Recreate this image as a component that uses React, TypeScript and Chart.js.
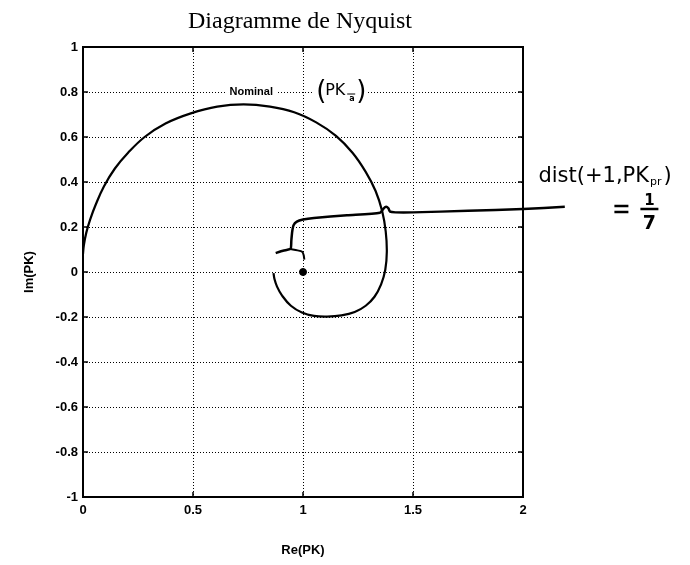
import React, { useEffect, useRef } from "react";
import { Chart, registerables } from "chart.js";

Chart.register(...registerables);

// Axis ticks
const X_TICKS = [0, 0.5, 1, 1.5, 2];
const X_TICK_LABELS = ["0", "0.5", "1", "1.5", "2"];
const Y_TICKS = [-1, -0.8, -0.6, -0.4, -0.2, 0, 0.2, 0.4, 0.6, 0.8, 1];
const Y_TICK_LABELS = ["-1", "-0.8", "-0.6", "-0.4", "-0.2", "0", "0.2", "0.4", "0.6", "0.8", "1"];

// Nominal open loop PK(jw)
const nominalRe = [0.000, 0.004, 0.015, 0.032, 0.058, 0.095, 0.145, 0.205, 0.280, 0.375, 0.490, 0.610, 0.730, 0.850, 0.960, 1.060, 1.150, 1.225, 1.285, 1.330, 1.360, 1.376, 1.381, 1.374, 1.355, 1.325, 1.285, 1.235, 1.175, 1.110, 1.050, 0.995, 0.945, 0.905, 0.882, 0.870, 0.866];
const nominalIm = [0.080, 0.120, 0.175, 0.232, 0.300, 0.380, 0.460, 0.530, 0.600, 0.660, 0.705, 0.735, 0.745, 0.735, 0.710, 0.665, 0.605, 0.530, 0.445, 0.360, 0.270, 0.180, 0.090, 0.010, -0.055, -0.110, -0.150, -0.178, -0.193, -0.198, -0.195, -0.180, -0.150, -0.105, -0.065, -0.030, -0.005];

// Hand-drawn distance marker from +1 to the loop
const distRe = [2.190, 2.000, 1.750, 1.500, 1.420, 1.396, 1.388, 1.378, 1.366, 1.350, 1.200, 1.050, 1.000, 0.972, 0.957, 0.951, 0.947, 0.944, 0.925, 0.900, 0.876];
const distIm = [0.290, 0.280, 0.272, 0.265, 0.265, 0.268, 0.283, 0.290, 0.282, 0.263, 0.252, 0.240, 0.233, 0.224, 0.208, 0.180, 0.140, 0.104, 0.098, 0.092, 0.084];
const distBranchRe = [0.944, 0.975, 0.996, 1.003, 1.006];
const distBranchIm = [0.102, 0.096, 0.090, 0.075, 0.055];

// Critical point +1
const criticalRe = [1];
const criticalIm = [0];

const toPoints = (xs: number[], ys: number[]) => xs.map((x, i) => ({ x, y: ys[i] }));

const HAND = "'DejaVu Sans', sans-serif";
const LABEL_FAMILY = "'Liberation Sans', sans-serif";

const framePlugin = {
  id: "frame",
  afterDraw(chart: any) {
    const { ctx, chartArea: a, scales } = chart;
    const xs = scales.x;
    const ys = scales.y;
    ctx.save();
    ctx.strokeStyle = "#000";
    ctx.lineWidth = 2;
    ctx.strokeRect(a.left, a.top, a.right - a.left, a.bottom - a.top);
    ctx.lineWidth = 1.5;
    const L = 5;
    ctx.beginPath();
    X_TICKS.forEach((v) => {
      const p = xs.getPixelForValue(v);
      ctx.moveTo(p, a.bottom);
      ctx.lineTo(p, a.bottom - L);
      ctx.moveTo(p, a.top);
      ctx.lineTo(p, a.top + L);
    });
    Y_TICKS.forEach((v) => {
      const p = ys.getPixelForValue(v);
      ctx.moveTo(a.left, p);
      ctx.lineTo(a.left + L, p);
      ctx.moveTo(a.right, p);
      ctx.lineTo(a.right - L, p);
    });
    ctx.stroke();
    ctx.restore();
  },
};

const notesPlugin = {
  id: "notes",
  afterDraw(chart: any) {
    const { ctx, chartArea: a, scales } = chart;
    const xs = scales.x;
    const ys = scales.y;
    ctx.save();
    ctx.fillStyle = "#000";
    ctx.textBaseline = "middle";

    // Title
    ctx.textAlign = "center";
    ctx.font = "24px 'Liberation Serif', serif";
    ctx.fillText("Diagramme de Nyquist", (a.left + a.right) / 2 - 3, 22);

    // "Nominal" label on the 0.8 grid line
    const gy = ys.getPixelForValue(0.8);
    const nx = xs.getPixelForValue(0.765);
    ctx.font = `bold 11px ${LABEL_FAMILY}`;
    const nw = ctx.measureText("Nominal").width;
    ctx.fillStyle = "#fff";
    ctx.fillRect(nx - nw / 2 - 4, gy - 6, nw + 8, 12);
    ctx.fillStyle = "#000";
    ctx.fillText("Nominal", nx, gy);

    // (PK_a) sketch
    const px = xs.getPixelForValue(1.06);
    ctx.fillStyle = "#fff";
    ctx.fillRect(px - 3, gy - 14, 54, 28);
    ctx.fillStyle = "#000";
    ctx.textAlign = "left";
    ctx.font = `26px ${HAND}`;
    ctx.fillText("(", px, gy);
    ctx.fillText(")", px + 40, gy);
    ctx.font = `16px ${HAND}`;
    ctx.fillText("PK", px + 9, gy - 1);
    ctx.font = `bold 8px ${HAND}`;
    ctx.fillText("a", px + 33, gy + 7);
    ctx.lineWidth = 1;
    ctx.beginPath();
    ctx.moveTo(px + 31, gy + 2);
    ctx.lineTo(px + 39, gy + 2);
    ctx.stroke();

    // dist(+1, PK_pr) = 1/7
    const dx = xs.getPixelForValue(2.07);
    const dy = ys.getPixelForValue(0.4);
    ctx.font = `21px ${HAND}`;
    ctx.textBaseline = "alphabetic";
    const main = "dist(+1,PK";
    ctx.fillText(main, dx, dy);
    const mw = ctx.measureText(main).width;
    ctx.font = `11px ${HAND}`;
    ctx.fillText("pr", dx + mw + 1, dy + 3);
    const sw = ctx.measureText("pr").width;
    ctx.font = `21px ${HAND}`;
    ctx.fillText(")", dx + mw + sw + 3, dy);

    const ex = dx + 76;
    const ey = dy + 27;
    ctx.lineWidth = 2.5;
    ctx.beginPath();
    ctx.moveTo(ex, ey - 3);
    ctx.lineTo(ex + 14, ey - 3);
    ctx.moveTo(ex, ey + 3);
    ctx.lineTo(ex + 14, ey + 3);
    ctx.moveTo(ex + 26, ey);
    ctx.lineTo(ex + 44, ey);
    ctx.stroke();
    ctx.textAlign = "center";
    ctx.font = `bold 15px ${HAND}`;
    ctx.fillText("1", ex + 35, ey - 4);
    ctx.font = `bold 19px ${HAND}`;
    ctx.fillText("7", ex + 35, ey + 20);
    ctx.restore();
  },
};

export default function App() {
  const ref = useRef<HTMLCanvasElement | null>(null);

  useEffect(() => {
    if (!ref.current) return;
    const tickFont = { family: LABEL_FAMILY, size: 13, weight: "bold" as const };
    const axisTitleFont = { family: LABEL_FAMILY, size: 13, weight: "bold" as const };
    const chart = new Chart(ref.current, {
      type: "scatter",
      data: {
        datasets: [
          {
            data: toPoints(nominalRe, nominalIm),
            showLine: true,
            borderColor: "#000",
            borderWidth: 2.2,
            pointRadius: 0,
            tension: 0.4,
          },
          {
            data: toPoints(distRe, distIm),
            showLine: true,
            borderColor: "#000",
            borderWidth: 2.5,
            pointRadius: 0,
            tension: 0.2,
            clip: false,
          },
          {
            data: toPoints(distBranchRe, distBranchIm),
            showLine: true,
            borderColor: "#000",
            borderWidth: 2,
            pointRadius: 0,
            tension: 0.3,
          },
          {
            data: toPoints(criticalRe, criticalIm),
            showLine: false,
            pointRadius: 3.5,
            pointBackgroundColor: "#000",
            pointBorderColor: "#000",
          },
        ],
      },
      options: {
        animation: false,
        responsive: false,
        layout: { padding: { left: 0, right: 167, top: 47, bottom: 0 } },
        plugins: { legend: { display: false }, tooltip: { enabled: false }, title: { display: false } },
        scales: {
          x: {
            type: "linear",
            min: 0,
            max: 2,
            afterBuildTicks: (s: any) => {
              s.ticks = X_TICKS.map((value) => ({ value }));
            },
            afterFit: (s: any) => {
              s.height = 68;
            },
            ticks: {
              color: "#000",
              font: tickFont,
              padding: 6,
              maxRotation: 0,
              autoSkip: false,
              callback: (_v: any, i: number) => X_TICK_LABELS[i],
            },
            grid: { color: "#000", lineWidth: 1, drawTicks: false },
            border: { display: false, dash: [1, 2] },
            title: {
              display: true,
              text: "Re(PK)",
              color: "#000",
              font: axisTitleFont,
              padding: { top: 0, bottom: 7 },
            },
          },
          y: {
            type: "linear",
            min: -1,
            max: 1,
            afterBuildTicks: (s: any) => {
              s.ticks = Y_TICKS.map((value) => ({ value }));
            },
            afterFit: (s: any) => {
              s.width = 83;
            },
            ticks: {
              color: "#000",
              font: tickFont,
              padding: 5,
              autoSkip: false,
              callback: (_v: any, i: number) => Y_TICK_LABELS[i],
            },
            grid: { color: "#000", lineWidth: 1, drawTicks: false },
            border: { display: false, dash: [1, 2] },
            title: {
              display: true,
              text: "Im(PK)",
              color: "#000",
              font: axisTitleFont,
              padding: { top: 22, bottom: 0 },
            },
          },
        },
      },
      plugins: [framePlugin, notesPlugin],
    });
    return () => chart.destroy();
  }, []);

  return (
    <div style={{ position: "absolute", left: 0, top: 0, width: 690, height: 565, background: "#fff" }}>
      <canvas ref={ref} width={690} height={565} />
    </div>
  );
}
